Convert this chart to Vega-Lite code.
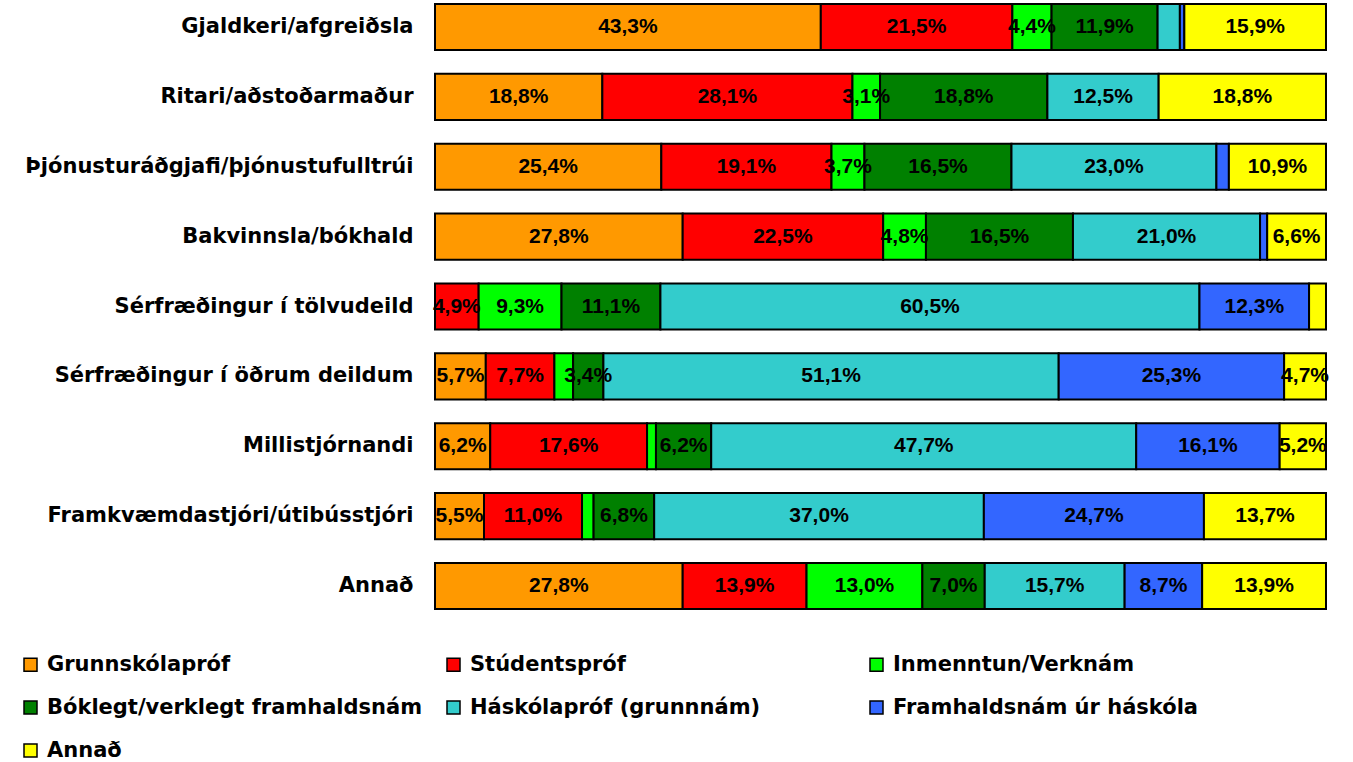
{
  "$schema": "https://vega.github.io/schema/vega-lite/v6.json",
  "width": 891,
  "height": 605,
  "autosize": {"type": "none"},
  "padding": {"left": 435, "top": 4, "right": 27, "bottom": 153},
  "background": "white",
  "config": {"view": {"stroke": null}, "font": "Liberation Sans"},
  "data": {"values": [
    {"cat": "Gjaldkeri/afgreiðsla", "edu": "Grunnskólapróf", "v": 43.3},
    {"cat": "Gjaldkeri/afgreiðsla", "edu": "Stúdentspróf", "v": 21.5},
    {"cat": "Gjaldkeri/afgreiðsla", "edu": "Inmenntun/Verknám", "v": 4.4},
    {"cat": "Gjaldkeri/afgreiðsla", "edu": "Bóklegt/verklegt framhaldsnám", "v": 11.9},
    {"cat": "Gjaldkeri/afgreiðsla", "edu": "Háskólapróf (grunnnám)", "v": 2.5},
    {"cat": "Gjaldkeri/afgreiðsla", "edu": "Framhaldsnám úr háskóla", "v": 0.5},
    {"cat": "Gjaldkeri/afgreiðsla", "edu": "Annað", "v": 15.9},
    {"cat": "Ritari/aðstoðarmaður", "edu": "Grunnskólapróf", "v": 18.8},
    {"cat": "Ritari/aðstoðarmaður", "edu": "Stúdentspróf", "v": 28.1},
    {"cat": "Ritari/aðstoðarmaður", "edu": "Inmenntun/Verknám", "v": 3.1},
    {"cat": "Ritari/aðstoðarmaður", "edu": "Bóklegt/verklegt framhaldsnám", "v": 18.8},
    {"cat": "Ritari/aðstoðarmaður", "edu": "Háskólapróf (grunnnám)", "v": 12.5},
    {"cat": "Ritari/aðstoðarmaður", "edu": "Annað", "v": 18.8},
    {"cat": "Þjónusturáðgjafi/þjónustufulltrúi", "edu": "Grunnskólapróf", "v": 25.4},
    {"cat": "Þjónusturáðgjafi/þjónustufulltrúi", "edu": "Stúdentspróf", "v": 19.1},
    {"cat": "Þjónusturáðgjafi/þjónustufulltrúi", "edu": "Inmenntun/Verknám", "v": 3.7},
    {"cat": "Þjónusturáðgjafi/þjónustufulltrúi", "edu": "Bóklegt/verklegt framhaldsnám", "v": 16.5},
    {"cat": "Þjónusturáðgjafi/þjónustufulltrúi", "edu": "Háskólapróf (grunnnám)", "v": 23.0},
    {"cat": "Þjónusturáðgjafi/þjónustufulltrúi", "edu": "Framhaldsnám úr háskóla", "v": 1.4},
    {"cat": "Þjónusturáðgjafi/þjónustufulltrúi", "edu": "Annað", "v": 10.9},
    {"cat": "Bakvinnsla/bókhald", "edu": "Grunnskólapróf", "v": 27.8},
    {"cat": "Bakvinnsla/bókhald", "edu": "Stúdentspróf", "v": 22.5},
    {"cat": "Bakvinnsla/bókhald", "edu": "Inmenntun/Verknám", "v": 4.8},
    {"cat": "Bakvinnsla/bókhald", "edu": "Bóklegt/verklegt framhaldsnám", "v": 16.5},
    {"cat": "Bakvinnsla/bókhald", "edu": "Háskólapróf (grunnnám)", "v": 21.0},
    {"cat": "Bakvinnsla/bókhald", "edu": "Framhaldsnám úr háskóla", "v": 0.8},
    {"cat": "Bakvinnsla/bókhald", "edu": "Annað", "v": 6.6},
    {"cat": "Sérfræðingur í tölvudeild", "edu": "Stúdentspróf", "v": 4.9},
    {"cat": "Sérfræðingur í tölvudeild", "edu": "Inmenntun/Verknám", "v": 9.3},
    {"cat": "Sérfræðingur í tölvudeild", "edu": "Bóklegt/verklegt framhaldsnám", "v": 11.1},
    {"cat": "Sérfræðingur í tölvudeild", "edu": "Háskólapróf (grunnnám)", "v": 60.5},
    {"cat": "Sérfræðingur í tölvudeild", "edu": "Framhaldsnám úr háskóla", "v": 12.3},
    {"cat": "Sérfræðingur í tölvudeild", "edu": "Annað", "v": 1.9},
    {"cat": "Sérfræðingur í öðrum deildum", "edu": "Grunnskólapróf", "v": 5.7},
    {"cat": "Sérfræðingur í öðrum deildum", "edu": "Stúdentspróf", "v": 7.7},
    {"cat": "Sérfræðingur í öðrum deildum", "edu": "Inmenntun/Verknám", "v": 2.1},
    {"cat": "Sérfræðingur í öðrum deildum", "edu": "Bóklegt/verklegt framhaldsnám", "v": 3.4},
    {"cat": "Sérfræðingur í öðrum deildum", "edu": "Háskólapróf (grunnnám)", "v": 51.1},
    {"cat": "Sérfræðingur í öðrum deildum", "edu": "Framhaldsnám úr háskóla", "v": 25.3},
    {"cat": "Sérfræðingur í öðrum deildum", "edu": "Annað", "v": 4.7},
    {"cat": "Millistjórnandi", "edu": "Grunnskólapróf", "v": 6.2},
    {"cat": "Millistjórnandi", "edu": "Stúdentspróf", "v": 17.6},
    {"cat": "Millistjórnandi", "edu": "Inmenntun/Verknám", "v": 1.0},
    {"cat": "Millistjórnandi", "edu": "Bóklegt/verklegt framhaldsnám", "v": 6.2},
    {"cat": "Millistjórnandi", "edu": "Háskólapróf (grunnnám)", "v": 47.7},
    {"cat": "Millistjórnandi", "edu": "Framhaldsnám úr háskóla", "v": 16.1},
    {"cat": "Millistjórnandi", "edu": "Annað", "v": 5.2},
    {"cat": "Framkvæmdastjóri/útibússtjóri", "edu": "Grunnskólapróf", "v": 5.5},
    {"cat": "Framkvæmdastjóri/útibússtjóri", "edu": "Stúdentspróf", "v": 11.0},
    {"cat": "Framkvæmdastjóri/útibússtjóri", "edu": "Inmenntun/Verknám", "v": 1.3},
    {"cat": "Framkvæmdastjóri/útibússtjóri", "edu": "Bóklegt/verklegt framhaldsnám", "v": 6.8},
    {"cat": "Framkvæmdastjóri/útibússtjóri", "edu": "Háskólapróf (grunnnám)", "v": 37.0},
    {"cat": "Framkvæmdastjóri/útibússtjóri", "edu": "Framhaldsnám úr háskóla", "v": 24.7},
    {"cat": "Framkvæmdastjóri/útibússtjóri", "edu": "Annað", "v": 13.7},
    {"cat": "Annað", "edu": "Grunnskólapróf", "v": 27.8},
    {"cat": "Annað", "edu": "Stúdentspróf", "v": 13.9},
    {"cat": "Annað", "edu": "Inmenntun/Verknám", "v": 13.0},
    {"cat": "Annað", "edu": "Bóklegt/verklegt framhaldsnám", "v": 7.0},
    {"cat": "Annað", "edu": "Háskólapróf (grunnnám)", "v": 15.7},
    {"cat": "Annað", "edu": "Framhaldsnám úr háskóla", "v": 8.7},
    {"cat": "Annað", "edu": "Annað", "v": 13.9}
  ]},
  "transform": [
    {"calculate": "indexof(['Grunnskólapróf','Stúdentspróf','Inmenntun/Verknám','Bóklegt/verklegt framhaldsnám','Háskólapróf (grunnnám)','Framhaldsnám úr háskóla','Annað'], datum.edu)", "as": "ord"},
    {"stack": "v", "groupby": ["cat"], "sort": [{"field": "ord", "order": "ascending"}], "offset": "normalize", "as": ["x0", "x1"]},
    {"calculate": "(datum.x0 + datum.x1) / 2", "as": "xm"},
    {"calculate": "replace(format(datum.v, '.1f'), '.', ',') + '%'", "as": "label"}
  ],
  "encoding": {
    "y": {
      "field": "cat", "type": "nominal",
      "sort": ["Gjaldkeri/afgreiðsla", "Ritari/aðstoðarmaður", "Þjónusturáðgjafi/þjónustufulltrúi", "Bakvinnsla/bókhald", "Sérfræðingur í tölvudeild", "Sérfræðingur í öðrum deildum", "Millistjórnandi", "Framkvæmdastjóri/útibússtjóri", "Annað"],
      "scale": {"paddingInner": 0.34, "paddingOuter": 0},
      "axis": {"title": null, "ticks": false, "domain": false, "labelFontSize": 21, "labelFontWeight": "bold", "labelColor": "black", "labelPadding": 22, "labelLimit": 0, "labelFont": "DejaVu Sans"}
    }
  },
  "layer": [
    {
      "mark": {"type": "bar", "stroke": "black", "strokeWidth": 2},
      "encoding": {
        "x": {"field": "x0", "type": "quantitative", "scale": {"domain": [0, 1], "nice": false}, "axis": null},
        "x2": {"field": "x1"},
        "color": {
          "field": "edu", "type": "nominal",
          "sort": ["Grunnskólapróf", "Stúdentspróf", "Inmenntun/Verknám", "Bóklegt/verklegt framhaldsnám", "Háskólapróf (grunnnám)", "Framhaldsnám úr háskóla", "Annað"],
          "scale": {
            "domain": ["Grunnskólapróf", "Stúdentspróf", "Inmenntun/Verknám", "Bóklegt/verklegt framhaldsnám", "Háskólapróf (grunnnám)", "Framhaldsnám úr háskóla", "Annað"],
            "range": ["#FF9900", "#FF0000", "#00FF00", "#008000", "#33CCCC", "#3366FF", "#FFFF00"]
          },
          "legend": {
            "title": null, "orient": "none", "legendX": -415, "legendY": 650, "direction": "horizontal",
            "columns": 3, "gridAlign": "all", "columnPadding": 20, "rowPadding": 21,
            "symbolType": "square", "symbolSize": 169, "symbolStrokeColor": "black", "symbolStrokeWidth": 1.5, "symbolOpacity": 1,
            "labelFontSize": 21, "labelFontWeight": "bold", "labelColor": "black", "labelOffset": 6, "labelLimit": 0, "labelFont": "DejaVu Sans", "padding": 0
          }
        }
      }
    },
    {
      "transform": [{"filter": "datum.v >= 3"}],
      "mark": {"type": "text", "fontSize": 21, "fontWeight": "bold", "color": "black", "align": "center", "baseline": "middle", "font": "Liberation Sans"},
      "encoding": {
        "x": {"field": "xm", "type": "quantitative"},
        "text": {"field": "label"}
      }
    }
  ]
}
